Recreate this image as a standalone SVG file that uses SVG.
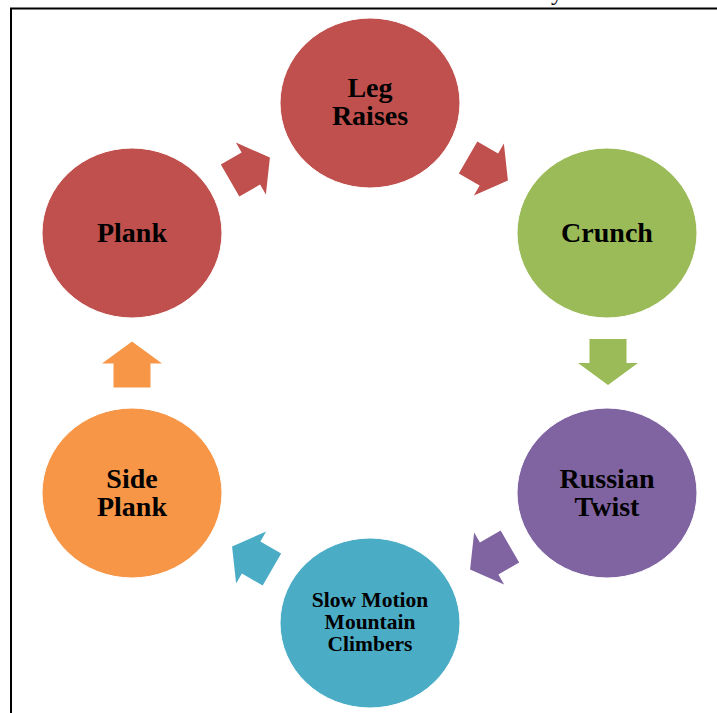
<svg xmlns="http://www.w3.org/2000/svg" width="717" height="713" viewBox="0 0 717 713">
<style>
.lbl{font-family:"Liberation Serif","Times New Roman",serif;font-weight:bold;font-size:28px;fill:#000;text-anchor:middle}
.sm{font-size:21.5px}
.node{stroke:#fff;stroke-width:1}
</style>
<defs>
<polygon id="arr" points="-23,-18.5 1,-18.5 1,-30 23,0 1,30 1,18.5 -23,18.5"/>
</defs>
<rect width="717" height="713" fill="#fff"/>
<text x="551" y="0" font-family="Liberation Serif, serif" font-size="24">y</text>
<path d="M11,740 V8.5 H720" fill="none" stroke="#000" stroke-width="2"/>
<g id="connectors">
<use href="#arr" fill="#C0504D" transform="translate(250,169) rotate(-30)"/>
<use href="#arr" fill="#C0504D" transform="translate(488,169) rotate(30)"/>
<use href="#arr" fill="#9BBB59" transform="translate(608,362) rotate(90)"/>
<use href="#arr" fill="#8064A2" transform="translate(490,558) rotate(150)"/>
<use href="#arr" fill="#4BACC6" transform="translate(252,558) rotate(210)"/>
<use href="#arr" fill="#F79646" transform="translate(132,364.5) rotate(-90)"/>
</g>
<g id="leg-raises">
<ellipse class="node" cx="370" cy="103" rx="90" ry="85" fill="#C0504D"/>
<text class="lbl" x="370" y="97">Leg</text>
<text class="lbl" x="370" y="125">Raises</text>
</g>
<g id="crunch">
<ellipse class="node" cx="607" cy="233" rx="90" ry="85" fill="#9BBB59"/>
<text class="lbl" x="607" y="242">Crunch</text>
</g>
<g id="russian-twist">
<ellipse class="node" cx="607" cy="493" rx="90" ry="85" fill="#8064A2"/>
<text class="lbl" x="607" y="488">Russian</text>
<text class="lbl" x="607" y="516">Twist</text>
</g>
<g id="slow-motion-mountain-climbers">
<ellipse class="node" cx="370" cy="623" rx="90" ry="85" fill="#4BACC6"/>
<text class="lbl sm" x="370" y="607">Slow Motion</text>
<text class="lbl sm" x="370" y="629">Mountain</text>
<text class="lbl sm" x="370" y="651">Climbers</text>
</g>
<g id="side-plank">
<ellipse class="node" cx="132" cy="493" rx="90" ry="85" fill="#F79646"/>
<text class="lbl" x="132" y="488">Side</text>
<text class="lbl" x="132" y="516">Plank</text>
</g>
<g id="plank">
<ellipse class="node" cx="132" cy="233" rx="90" ry="85" fill="#C0504D"/>
<text class="lbl" x="132" y="242">Plank</text>
</g>
</svg>
